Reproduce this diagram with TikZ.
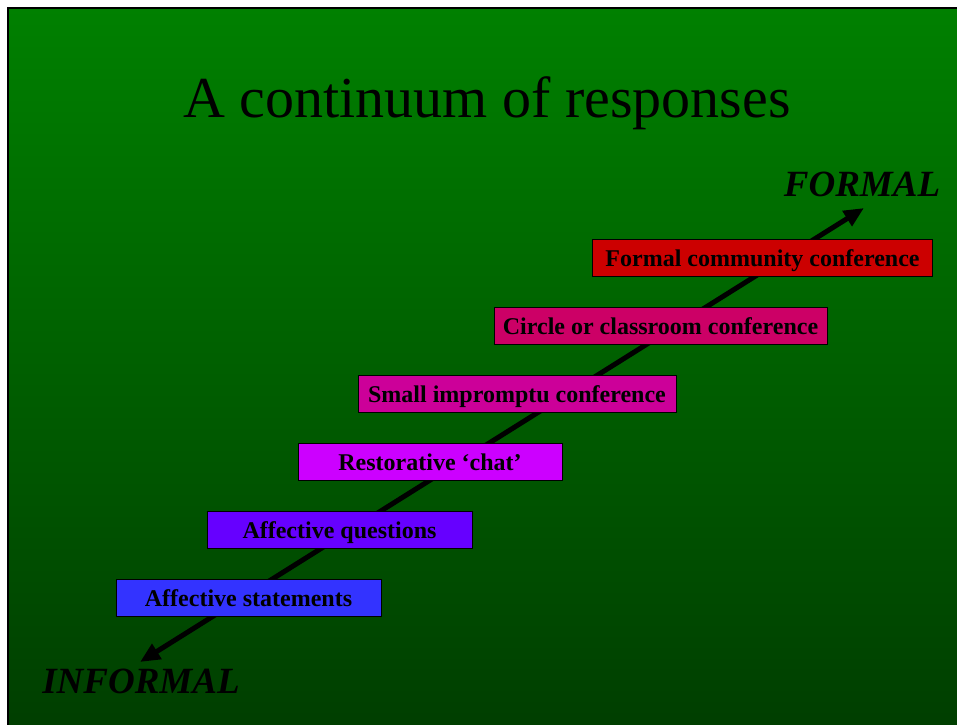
\documentclass[tikz,border=0pt]{standalone}
\usepackage{fontspec}
\setmainfont{Liberation Serif}
\usetikzlibrary{arrows.meta}
\definecolor{slidetop}{RGB}{0,128,0}
\definecolor{slidebottom}{RGB}{0,62,0}
\definecolor{stmtblue}{RGB}{51,51,255}
\definecolor{questviolet}{RGB}{102,0,255}
\definecolor{chatpurple}{RGB}{204,0,255}
\definecolor{imprmagenta}{RGB}{204,0,153}
\definecolor{circlerose}{RGB}{204,0,102}
\definecolor{formalred}{RGB}{204,0,0}
\tikzset{
	stagebox/.style={draw=black,line width=0.8pt,inner sep=0pt,minimum height=37pt,text height=17pt,text depth=0pt,font=\fontsize{24}{28}\selectfont\bfseries,text=black},
	endlabel/.style={anchor=base,font=\fontsize{37}{42}\selectfont\bfseries\itshape,text=black}
}
\begin{document}
\begin{tikzpicture}[x=1pt,y=-1pt]
	\useasboundingbox (0,0) rectangle (957,724);
	\fill[white] (0,0) rectangle (957,724);
	
	\shade[top color=slidetop,bottom color=slidebottom] (8,8) rectangle (962,729);
	\draw[black,line width=2.5pt] (8,729) -- (8,8) -- (962,8);
	
	\node[anchor=base,font=\fontsize{58}{64}\selectfont,text=black] (title) at (487,117) {A continuum of responses};
	
	\coordinate (lowend) at (140,662);
	\coordinate (highend) at (864,208);
	\draw[line width=5pt,{Triangle[length=20pt,width=17pt]}-{Triangle[length=20pt,width=17pt]}] (lowend) -- (highend);
	
	\node[endlabel] (formal) at (862,196) {FORMAL};
	\node[endlabel] (informal) at (141,693) {INFORMAL};
	
	\node[stagebox,fill=stmtblue,minimum width=265pt] (statements) at (248.5,597.5) {Affective statements};
	\node[stagebox,fill=questviolet,minimum width=265pt] (questions) at (339.5,529.5) {Affective questions};
	\node[stagebox,fill=chatpurple,minimum width=264pt] (chat) at (430,461.5) {Restorative ‘chat’};
	\node[stagebox,fill=imprmagenta,minimum width=318pt] (impromptu) at (517,393.5) {Small impromptu conference};
	\node[stagebox,fill=circlerose,minimum width=333pt] (classroom) at (660.5,325.5) {Circle or classroom conference};
	\node[stagebox,fill=formalred,minimum width=340pt] (community) at (762.5,257.5) {Formal community conference};
\end{tikzpicture}
\end{document}
